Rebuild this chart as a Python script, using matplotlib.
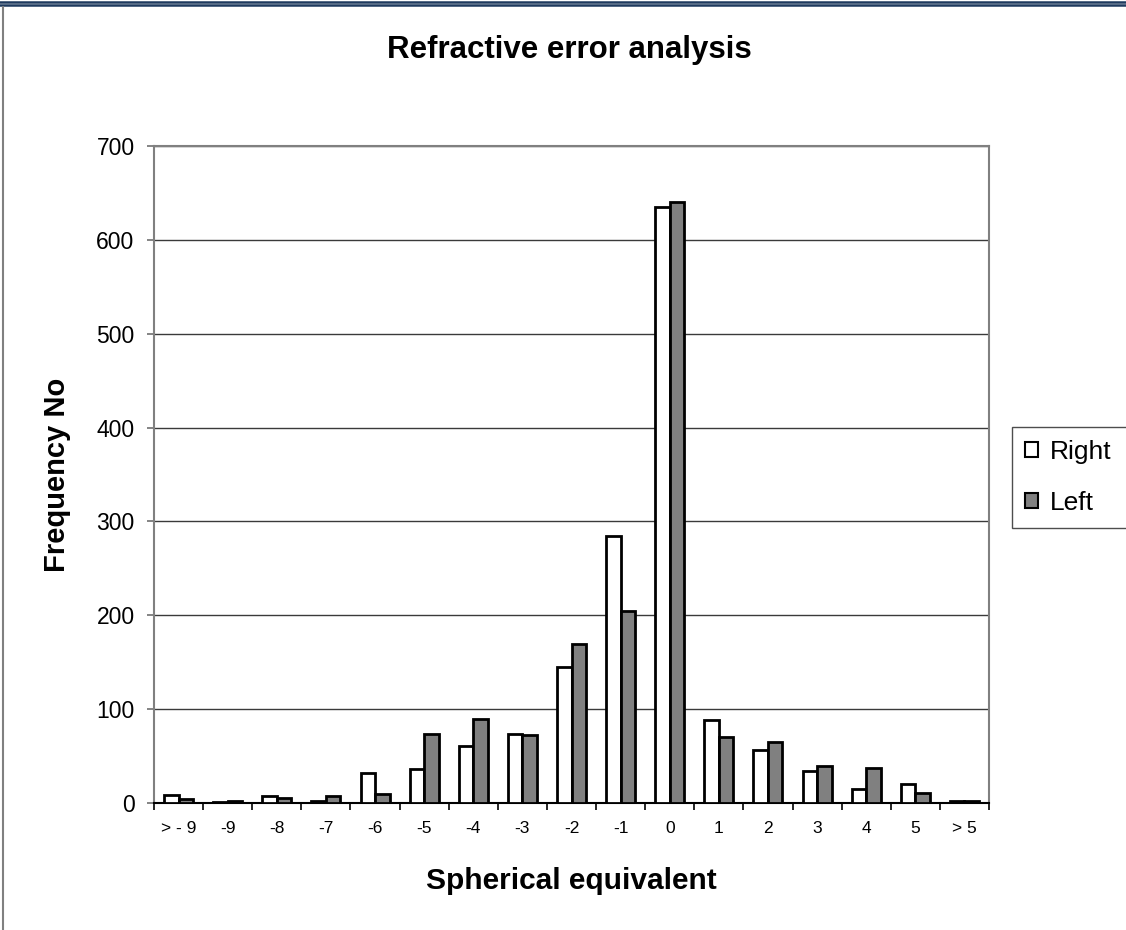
import numpy as np
import matplotlib.pyplot as plt
from matplotlib.lines import Line2D

plt.rcParams['font.family'] = ['Liberation Sans', 'DejaVu Sans']

categories = ['> - 9', '-9', '-8', '-7', '-6', '-5', '-4', '-3', '-2', '-1',
              '0', '1', '2', '3', '4', '5', '> 5']
right = [8, 1, 7, 2, 32, 36, 61, 73, 145, 284, 635, 88, 57, 34, 15, 20, 2]
left = [4, 2, 5, 7, 10, 73, 90, 72, 169, 205, 640, 70, 65, 39, 37, 11, 2]

W, H = 1126, 930
fig = plt.figure(figsize=(W/100, H/100), dpi=100)
ax = fig.add_axes([154/W, 1 - 803/H, (989-154)/W, (803-146)/H])

x = np.arange(len(categories))
w = 0.295
ax.bar(x - w/2, right, w, color='white', edgecolor='black', linewidth=2, label='Right', zorder=3)
ax.bar(x + w/2, left, w, color='#808080', edgecolor='black', linewidth=2, label='Left', zorder=3)

ax.set_xlim(-0.5, len(categories) - 0.5)
ax.set_ylim(0, 700)
ax.set_yticks(range(0, 701, 100))
ax.yaxis.grid(True, color='#3a3a3a', linewidth=1.0, zorder=0)
ax.set_xticks(x)
ax.set_xticklabels(categories, fontsize=12.5)
ax.set_xticks(np.arange(-0.5, len(categories), 1), minor=True)
ax.tick_params(axis='x', which='major', length=0, pad=13)
ax.tick_params(axis='x', which='minor', length=5, width=1.2, direction='out')
ax.tick_params(axis='y', labelsize=16.5, length=5, width=1.2, direction='out',
               color='#707070', pad=9)

for s in ['left', 'right', 'top']:
    ax.spines[s].set_color('#808080')
    ax.spines[s].set_linewidth(1.5)
ax.spines['bottom'].set_color('black')
ax.spines['bottom'].set_linewidth(1.5)

ax.set_xlabel('Spherical equivalent', fontsize=21.5, fontweight='bold', labelpad=22)
ax.set_ylabel('Frequency No', fontsize=21, fontweight='bold', labelpad=18)
fig.text(569/W, 1 - 58/H, 'Refractive error analysis', ha='center', va='baseline',
         fontsize=22.5, fontweight='bold')

# legend box runs past the right edge like the original
leg = fig.legend(loc='upper left', bbox_to_anchor=(1012/W, 1 - 522/H, 140/W, 95/H),
                 mode='expand', fontsize=19, frameon=True, fancybox=False,
                 edgecolor='#202020', handlelength=0.5, handleheight=0.5,
                 handletextpad=0.45, borderpad=0.5, labelspacing=1.0, borderaxespad=0)
leg.get_frame().set_linewidth(1)
for p in leg.get_patches():
    p.set_linewidth(1.5)

# page frame
fig.add_artist(Line2D([0, 1], [1 - 2/H, 1 - 2/H], color='#1f3a5f', linewidth=1.8, transform=fig.transFigure))
fig.add_artist(Line2D([0, 1], [1 - 5.5/H, 1 - 5.5/H], color='#1f3a5f', linewidth=1.8, transform=fig.transFigure))
fig.add_artist(Line2D([3/W, 3/W], [0, 1 - 7/H], color='#808080', linewidth=1.5, transform=fig.transFigure))

fig.savefig('out.png', dpi=100)
